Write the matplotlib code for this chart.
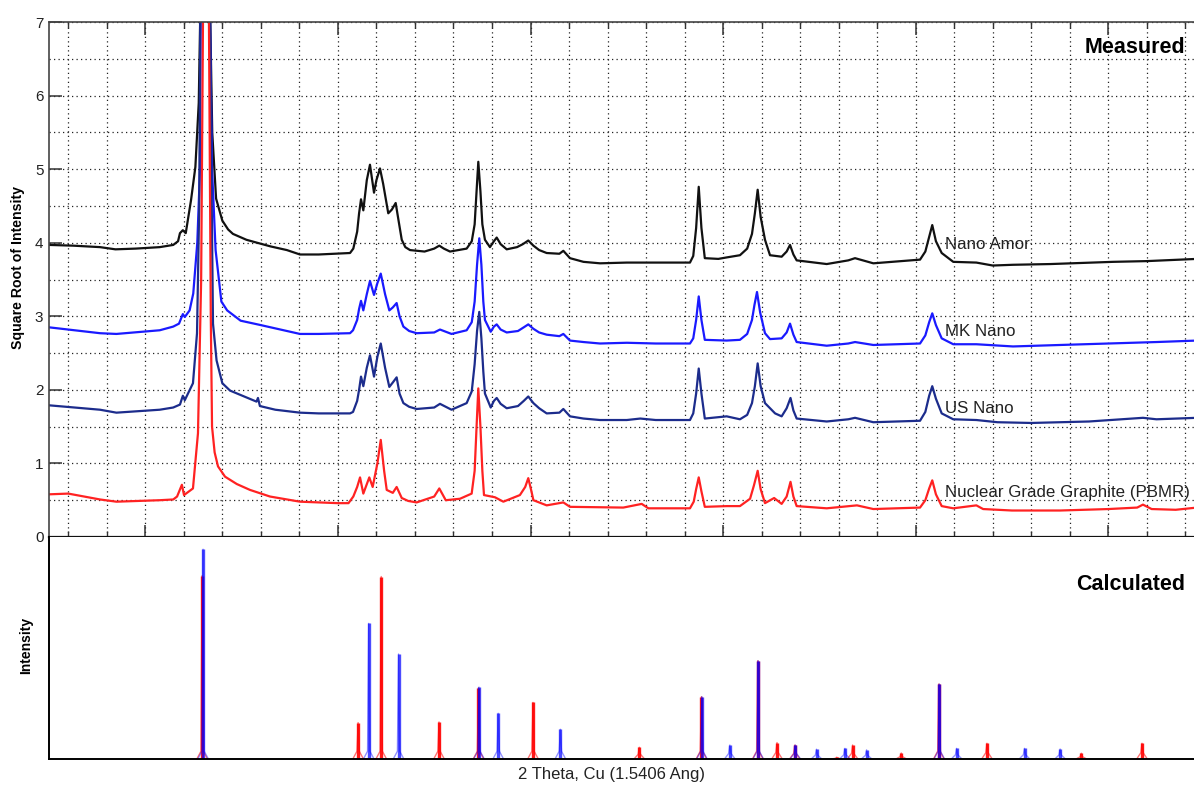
import matplotlib
matplotlib.use("Agg")
import matplotlib.pyplot as plt
from matplotlib.ticker import MultipleLocator

plt.rcParams['font.family'] = ['Liberation Sans', 'DejaVu Sans']

# measured patterns: 2-theta (deg) and square root of intensity
nano_amor_x = [10.0, 12.5, 15.3, 16.9, 19.0, 21.5, 22.9, 23.4, 23.6, 23.9, 24.2, 24.75, 25.2, 25.55, 25.72, 26.2, 26.72, 26.95,
               27.35, 28.0, 28.6, 29.1, 30.5, 31.6, 33.0, 34.7, 36.06, 38.0, 41.26, 41.6, 42.0, 42.2, 42.4, 42.64, 43.0, 43.33,
               43.75, 44.0, 44.37, 44.7, 45.23, 45.6, 46.0, 46.3, 46.63, 47.0, 47.49, 49.0, 50.0, 50.53, 51.0, 51.64, 53.37,
               53.9, 54.2, 54.4, 54.58, 54.8, 55.0, 55.27, 55.79, 56.2, 56.49, 56.9, 57.53, 58.6, 59.2, 59.77, 60.3, 60.9,
               61.68, 63.0, 63.41, 64.1, 65.5, 67.22, 70.0, 73.0, 76.56, 76.9, 77.2, 77.47, 77.75, 78.1, 79.5, 80.37, 81.75,
               82.5, 83.0, 83.3, 83.59, 83.9, 84.35, 84.87, 86.08, 86.6, 86.95, 87.3, 87.64, 90.76, 93.0, 93.7, 95.6, 100.45,
               101.0, 101.4, 101.72, 102.1, 102.7, 103.9, 106.3, 108.0, 110.1, 114.0, 120.5, 124.0, 129.2]
nano_amor_y = [3.97, 3.96, 3.94, 3.91, 3.92, 3.94, 3.97, 4.02, 4.13, 4.17, 4.13, 4.58, 5.03, 5.9, 7.2, 9.5, 7.2, 5.5,
               4.6, 4.3, 4.18, 4.12, 4.04, 4.0, 3.95, 3.90, 3.84, 3.84, 3.86, 3.92, 4.15, 4.4, 4.59, 4.44, 4.85, 5.06,
               4.68, 4.85, 5.01, 4.8, 4.40, 4.45, 4.54, 4.3, 4.04, 3.94, 3.90, 3.88, 3.92, 3.96, 3.92, 3.88, 3.92,
               4.02, 4.25, 4.7, 5.10, 4.7, 4.25, 4.04, 3.94, 4.02, 4.07, 3.98, 3.91, 3.94, 3.98, 4.03, 3.96, 3.90,
               3.86, 3.85, 3.89, 3.79, 3.74, 3.72, 3.73, 3.73, 3.73, 3.82, 4.2, 4.76, 4.2, 3.79, 3.78, 3.80, 3.83,
               3.92, 4.12, 4.4, 4.72, 4.35, 4.04, 3.83, 3.81, 3.88, 3.97, 3.84, 3.76, 3.71, 3.76, 3.79, 3.72, 3.77,
               3.88, 4.08, 4.24, 4.02, 3.86, 3.74, 3.73, 3.69, 3.70, 3.71, 3.74, 3.75, 3.78]

mk_nano_x = [10.0, 15.3, 17.0, 21.5, 22.9, 23.5, 23.9, 24.1, 24.6, 24.98, 25.4, 25.68, 25.75, 26.2, 26.7, 26.93, 27.3, 27.9,
             28.5, 29.9, 32.0, 36.06, 38.0, 41.26, 41.57, 42.0, 42.2, 42.4, 42.64, 43.0, 43.33, 43.75, 44.1, 44.45, 44.9,
             45.34, 45.7, 46.1, 46.4, 46.8, 47.4, 48.18, 50.0, 50.6, 51.2, 51.8, 53.37, 53.9, 54.2, 54.45, 54.68, 54.9, 55.1,
             55.27, 55.87, 56.2, 56.49, 56.9, 57.53, 58.7, 59.3, 59.77, 60.3, 60.9, 61.68, 63.0, 63.41, 64.1, 65.5, 67.22,
             70.0, 73.0, 76.56, 76.9, 77.2, 77.47, 77.75, 78.1, 80.37, 81.75, 82.5, 83.0, 83.25, 83.52, 83.85, 84.35, 84.87,
             86.08, 86.6, 86.95, 87.3, 87.64, 90.76, 93.0, 93.7, 95.6, 100.45, 101.0, 101.4, 101.72, 102.1, 102.7, 103.9,
             106.3, 110.1, 115.0, 120.0, 125.0, 129.2]
mk_nano_y = [2.85, 2.77, 2.76, 2.81, 2.86, 2.9, 3.03, 2.99, 3.08, 3.31, 4.0, 5.0, 7.2, 9.5, 7.2, 5.0, 3.9, 3.2,
             3.08, 2.94, 2.88, 2.76, 2.76, 2.77, 2.81, 2.95, 3.1, 3.21, 3.08, 3.3, 3.48, 3.29, 3.45, 3.58, 3.3,
             3.08, 3.12, 3.18, 3.0, 2.86, 2.8, 2.77, 2.78, 2.82, 2.79, 2.76, 2.81, 2.92, 3.2, 3.7, 4.06, 3.7, 3.2,
             2.95, 2.79, 2.86, 2.89, 2.82, 2.78, 2.8, 2.85, 2.89, 2.83, 2.78, 2.75, 2.73, 2.76, 2.67, 2.65, 2.63,
             2.64, 2.63, 2.63, 2.7, 2.95, 3.27, 2.95, 2.68, 2.67, 2.68, 2.76, 2.95, 3.15, 3.33, 3.05, 2.77, 2.69,
             2.70, 2.78, 2.90, 2.75, 2.65, 2.60, 2.63, 2.65, 2.61, 2.63, 2.74, 2.92, 3.04, 2.88, 2.70, 2.62,
             2.62, 2.59, 2.61, 2.63, 2.65, 2.67]

us_nano_x = [10.0, 15.3, 17.0, 21.5, 22.9, 23.6, 23.9, 24.1, 24.95, 25.37, 25.6, 25.72, 26.2, 26.72, 26.9, 27.03, 27.4, 28.0,
             28.8, 29.9, 31.55, 31.7, 31.9, 33.5, 36.06, 38.0, 41.26, 41.57, 42.0, 42.2, 42.4, 42.64, 43.0, 43.33, 43.75,
             44.1, 44.45, 44.9, 45.34, 45.7, 46.1, 46.4, 46.8, 47.4, 48.18, 50.0, 50.6, 51.2, 51.8, 53.37, 53.9, 54.2, 54.45,
             54.68, 54.9, 55.1, 55.27, 55.87, 56.2, 56.49, 56.9, 57.53, 58.7, 59.3, 59.77, 60.3, 60.9, 61.68, 63.0, 63.41,
             64.1, 65.5, 67.22, 70.0, 71.4, 73.0, 76.56, 76.9, 77.2, 77.47, 77.75, 78.1, 80.37, 81.75, 82.5, 83.0, 83.3,
             83.59, 83.9, 84.35, 85.4, 86.08, 86.6, 87.0, 87.3, 87.64, 90.76, 93.0, 93.7, 95.6, 100.45, 101.0, 101.4, 101.72,
             102.1, 102.7, 103.9, 106.3, 108.5, 112.0, 118.0, 123.6, 125.0, 129.2]
us_nano_y = [1.79, 1.73, 1.69, 1.73, 1.76, 1.8, 1.92, 1.86, 2.09, 2.77, 4.5, 7.2, 9.5, 7.2, 4.5, 2.9, 2.4, 2.09,
             1.99, 1.93, 1.84, 1.89, 1.78, 1.73, 1.69, 1.68, 1.68, 1.70, 1.85, 2.0, 2.18, 2.05, 2.3, 2.47, 2.18,
             2.45, 2.63, 2.3, 2.04, 2.1, 2.17, 1.95, 1.82, 1.77, 1.74, 1.76, 1.81, 1.77, 1.73, 1.82, 1.98, 2.35, 2.8,
             3.06, 2.7, 2.25, 1.95, 1.76, 1.85, 1.89, 1.81, 1.75, 1.78, 1.85, 1.91, 1.82, 1.75, 1.68, 1.69, 1.74,
             1.64, 1.61, 1.59, 1.59, 1.61, 1.59, 1.59, 1.68, 1.95, 2.29, 1.95, 1.61, 1.64, 1.60, 1.66, 1.82, 2.05,
             2.36, 2.05, 1.82, 1.68, 1.64, 1.75, 1.89, 1.72, 1.61, 1.57, 1.60, 1.62, 1.56, 1.58, 1.70, 1.92, 2.05,
             1.88, 1.68, 1.60, 1.59, 1.56, 1.55, 1.57, 1.62, 1.60, 1.62]

pbmr_x = [10.0, 12.0, 15.3, 17.0, 21.5, 22.9, 23.3, 23.8, 24.02, 24.95, 25.47, 25.8, 26.0, 26.3, 26.6, 26.8, 26.93, 27.2,
          27.55, 28.28, 29.5, 30.87, 32.95, 36.06, 40.0, 41.1, 41.6, 42.0, 42.3, 42.64, 43.26, 43.61, 44.1, 44.45, 44.8,
          45.07, 45.7, 46.1, 46.63, 47.3, 48.18, 50.0, 50.53, 51.2, 52.68, 53.89, 54.2, 54.4, 54.58, 54.8, 55.0, 55.17,
          56.31, 57.18, 58.9, 59.45, 59.77, 60.1, 60.3, 61.68, 63.41, 64.1, 69.64, 71.55, 72.24, 76.56, 76.95, 77.2, 77.47,
          77.75, 78.1, 80.4, 81.75, 82.8, 83.2, 83.59, 83.9, 84.35, 85.3, 86.08, 86.6, 87.0, 87.3, 87.64, 90.76, 93.9,
          95.6, 100.45, 101.0, 101.4, 101.72, 102.1, 102.7, 103.9, 106.3, 107.0, 110.0, 115.0, 120.0, 123.0, 123.6, 124.5,
          127.0, 129.2]
pbmr_y = [0.58, 0.59, 0.51, 0.48, 0.50, 0.51, 0.55, 0.71, 0.57, 0.66, 1.41, 3.5, 7.2, 9.5, 7.2, 3.0, 1.50, 1.15,
          0.96, 0.82, 0.72, 0.64, 0.55, 0.48, 0.46, 0.46, 0.55, 0.68, 0.81, 0.59, 0.81, 0.68, 1.0, 1.32, 0.9,
          0.64, 0.6, 0.68, 0.53, 0.49, 0.47, 0.55, 0.66, 0.50, 0.52, 0.59, 0.9, 1.5, 2.02, 1.5, 0.9, 0.57,
          0.54, 0.48, 0.57, 0.68, 0.80, 0.62, 0.50, 0.43, 0.47, 0.41, 0.40, 0.45, 0.39, 0.39, 0.48, 0.65, 0.81,
          0.62, 0.41, 0.42, 0.42, 0.52, 0.7, 0.90, 0.65, 0.46, 0.53, 0.45, 0.55, 0.75, 0.55, 0.42, 0.39, 0.43,
          0.38, 0.40, 0.5, 0.66, 0.77, 0.58, 0.42, 0.39, 0.43, 0.38, 0.36, 0.36, 0.38, 0.40, 0.44, 0.38,
          0.37, 0.40]

# calculated reflections (relative intensity)
calc_red_pos = [25.9, 42.1, 44.5, 50.5, 54.6, 60.26, 71.3, 77.75, 83.6, 85.6, 87.45, 91.8, 93.45, 98.5, 102.4, 107.4, 117.2, 123.5]
calc_red_int = [82.6, 16.4, 82.2, 16.7, 32.0, 25.5, 5.3, 28.1, 44.3, 7.4, 6.3, 0.8, 6.3, 2.7, 33.8, 7.1, 2.6, 7.1]
calc_blue_pos = [26.0, 43.2, 46.3, 54.65, 56.65, 63.1, 77.8, 80.7, 83.65, 87.5, 89.7, 92.65, 94.9, 102.45, 104.25, 111.3, 115.0]
calc_blue_int = [94.5, 61.1, 47.3, 32.4, 20.6, 13.4, 28.1, 6.3, 44.3, 6.3, 4.4, 4.8, 4.1, 33.8, 4.8, 4.8, 4.5]

series = [
    (nano_amor_x, nano_amor_y, '#111111', 'Nano Amor', 3.97),
    (mk_nano_x, mk_nano_y, '#1a1aff', 'MK Nano', 2.79),
    (us_nano_x, us_nano_y, '#1c2c8c', 'US Nano', 1.75),
    (pbmr_x, pbmr_y, '#ff2222', 'Nuclear Grade Graphite (PBMR)', 0.61),
]

W, H = 1194, 785
fig = plt.figure(figsize=(W / 100, H / 100), dpi=100)
left, right = 49 / W, 1198 / W
ax = fig.add_axes([left, 1 - 537 / H, right - left, 515 / H])
ax2 = fig.add_axes([left, 1 - 759 / H, right - left, 222 / H])

xmin, xmax = 10, 10 + (1198 - 49) / 9.63

for x, y, c, name, ly in series:
    ax.plot(x, y, color=c, lw=1.6, solid_joinstyle='round')
    ax.text(103.0, ly, name, color='#222222', fontsize=12.2, ha='left', va='center')

ax.set_xlim(xmin, xmax)
ax.set_ylim(0, 7)
ax.xaxis.set_major_locator(MultipleLocator(20))
ax.xaxis.set_minor_locator(MultipleLocator(4))
ax.yaxis.set_major_locator(MultipleLocator(1))
ax.yaxis.set_minor_locator(MultipleLocator(0.5))
ax.grid(which='both', color='#222222', linestyle=(0, (1, 2.6)), lw=0.9)
ax.tick_params(which='major', direction='in', length=9, width=1.1, top=True, labelsize=11,
               colors='#333333', labelcolor='#222222', pad=4)
ax.tick_params(axis='x', which='minor', direction='in', length=4, width=1, top=True, colors='#333333')
ax.tick_params(axis='y', which='minor', length=0)
for s in ax.spines.values():
    s.set_color('#444444')
    s.set_linewidth(1.2)
ax.spines['bottom'].set_color('#111111')
ax.spines['bottom'].set_linewidth(1.6)
ax.text(128.0, 6.66, 'Measured', fontsize=15.5, fontweight='bold', ha='right', va='center')

# stick pattern with narrow feet
for pos, inten, c, a in [(calc_red_pos, calc_red_int, '#ff0000', 0.9), (calc_blue_pos, calc_blue_int, '#0000ff', 0.7)]:
    for p, h in zip(pos, inten):
        f = min(3.5, h * 0.4)
        ax2.plot([p - 0.55, p - 0.12, p, p + 0.12, p + 0.55], [0, f, h, f, 0], color=c, alpha=a * 0.6, lw=1)
        ax2.vlines(p, 0, h, color=c, alpha=a, lw=2.4)

ax2.set_xlim(xmin, xmax)
ax2.set_ylim(0, 100)
ax2.set_xticks([])
ax2.set_yticks([])
ax2.spines['top'].set_visible(False)
ax2.spines['right'].set_visible(False)
ax2.spines['left'].set_linewidth(1.4)
ax2.spines['bottom'].set_linewidth(1.4)
ax2.text(128.0, 78.8, 'Calculated', fontsize=15.5, fontweight='bold', ha='right', va='center')

fig.text(18 / W, 1 - 268 / H, 'Square Root of Intensity', fontsize=10.2, fontweight='bold',
         rotation=90, ha='center', va='center')
fig.text(26 / W, 1 - 645 / H, 'Intensity', fontsize=10, fontweight='bold', rotation=90, ha='center', va='center')
fig.text(611 / W, 1 - 775 / H, '2 Theta, Cu (1.5406 Ang)', fontsize=12, ha='center', va='center', color='#222222')

fig.savefig('out.png', dpi=100)
